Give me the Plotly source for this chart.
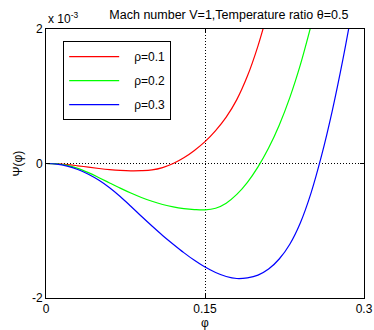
import plotly.graph_objects as go

phi_red = [0.00,0.01,0.02,0.03,0.04,0.05,0.06,0.07,0.08,0.09,0.10,0.11,0.12,0.13,0.14,0.15,0.16,0.17,0.18,0.19,0.20,0.21]
psi_red = [0,-0.004,-0.016,-0.034,-0.054,-0.074,-0.091,-0.103,-0.109,-0.107,-0.096,-0.061,-0.001,0.084,0.194,0.325,0.49,0.69,0.95,1.30,1.75,2.30]

phi_green = [0.00,0.01,0.02,0.03,0.04,0.05,0.06,0.07,0.08,0.09,0.10,0.11,0.12,0.13,0.14,0.15,0.16,0.17,0.18,0.19,0.20,0.21,0.22,0.23,0.24,0.25]
psi_green = [0,-0.005,-0.027,-0.072,-0.136,-0.211,-0.289,-0.366,-0.439,-0.505,-0.562,-0.609,-0.645,-0.670,-0.685,-0.69,-0.665,-0.59,-0.46,-0.28,-0.05,0.23,0.57,0.98,1.47,2.05]

phi_blue = [0.00,0.01,0.02,0.03,0.04,0.05,0.06,0.07,0.08,0.09,0.10,0.11,0.12,0.13,0.14,0.15,0.16,0.17,0.18,0.19,0.20,0.21,0.22,0.23,0.24,0.25,0.26,0.27,0.28,0.29]
psi_blue = [0,-0.01,-0.04,-0.09,-0.16,-0.25,-0.36,-0.49,-0.635,-0.785,-0.93,-1.07,-1.20,-1.325,-1.44,-1.54,-1.62,-1.68,-1.71,-1.70,-1.66,-1.57,-1.42,-1.20,-0.88,-0.44,0.12,0.78,1.54,2.39]

names = ["\u00a0\u00a0\u00a0ρ=0.1", "\u00a0\u00a0\u00a0ρ=0.2", "\u00a0\u00a0\u00a0ρ=0.3"]
colors = ["#ff0000", "#00ff00", "#0000ff"]
xtick_vals = [0, 0.15, 0.3]
xtick_text = ["0", "0.15", "0.3"]
ytick_vals = [-2, 0, 2]
ytick_text = ["-2", "0", "2"]

font = "Liberation Sans, Arial, sans-serif"
fig = go.Figure()
for i, (xs, ys, n, c) in enumerate(zip([phi_red, phi_green, phi_blue], [psi_red, psi_green, psi_blue], names, colors)):
    fig.add_trace(go.Scatter(x=xs, y=ys, mode="lines", name=n, legendgroup=f"g{i}",
                             line=dict(color=c, width=1.2, shape="spline", smoothing=1)))

fig.update_layout(
    width=374, height=330,
    margin=dict(l=46, r=10, t=29, b=32),
    paper_bgcolor="white", plot_bgcolor="white",
    font=dict(family=font, size=12, color="black"),
    showlegend=True,
    legend=dict(x=0.054, y=0.955, xanchor="left", yanchor="top",
                bordercolor="black", borderwidth=1, bgcolor="white",
                font=dict(size=12), itemwidth=50, tracegroupgap=5,
                entrywidth=95, entrywidthmode="pixels"),
    title=dict(text="Mach number V=1,Temperature ratio θ=0.5", x=0.612, xanchor="center",
               y=0.955, yanchor="middle", font=dict(size=12.5)),
    xaxis=dict(range=[0, 0.3], tickvals=xtick_vals, ticktext=xtick_text, automargin=False,
               showline=True, mirror="ticks", linecolor="black", linewidth=1,
               ticks="inside", ticklen=4, tickcolor="black",
               showgrid=True, gridcolor="black", griddash="1px,2px", gridwidth=1,
               zeroline=False, title=dict(text="φ", standoff=0, font=dict(size=12))),
    yaxis=dict(range=[-2, 2], tickvals=ytick_vals, ticktext=ytick_text, automargin=False,
               showline=True, mirror="ticks", linecolor="black", linewidth=1,
               ticks="inside", ticklen=4, tickcolor="black",
               showgrid=True, gridcolor="black", griddash="1px,2px", gridwidth=1,
               zeroline=False),
)
fig.add_annotation(x=0, y=0.5, xref="paper", yref="paper", xanchor="center", yanchor="middle",
                   text="Ψ(φ)", textangle=-90, showarrow=False, xshift=-29, font=dict(size=12))
fig.add_annotation(x=0, y=1, xref="paper", yref="paper", xanchor="left", yanchor="bottom",
                   text="x 10<sup>-3</sup>", showarrow=False, yshift=1, font=dict(size=12))
fig.write_html("out.html")
